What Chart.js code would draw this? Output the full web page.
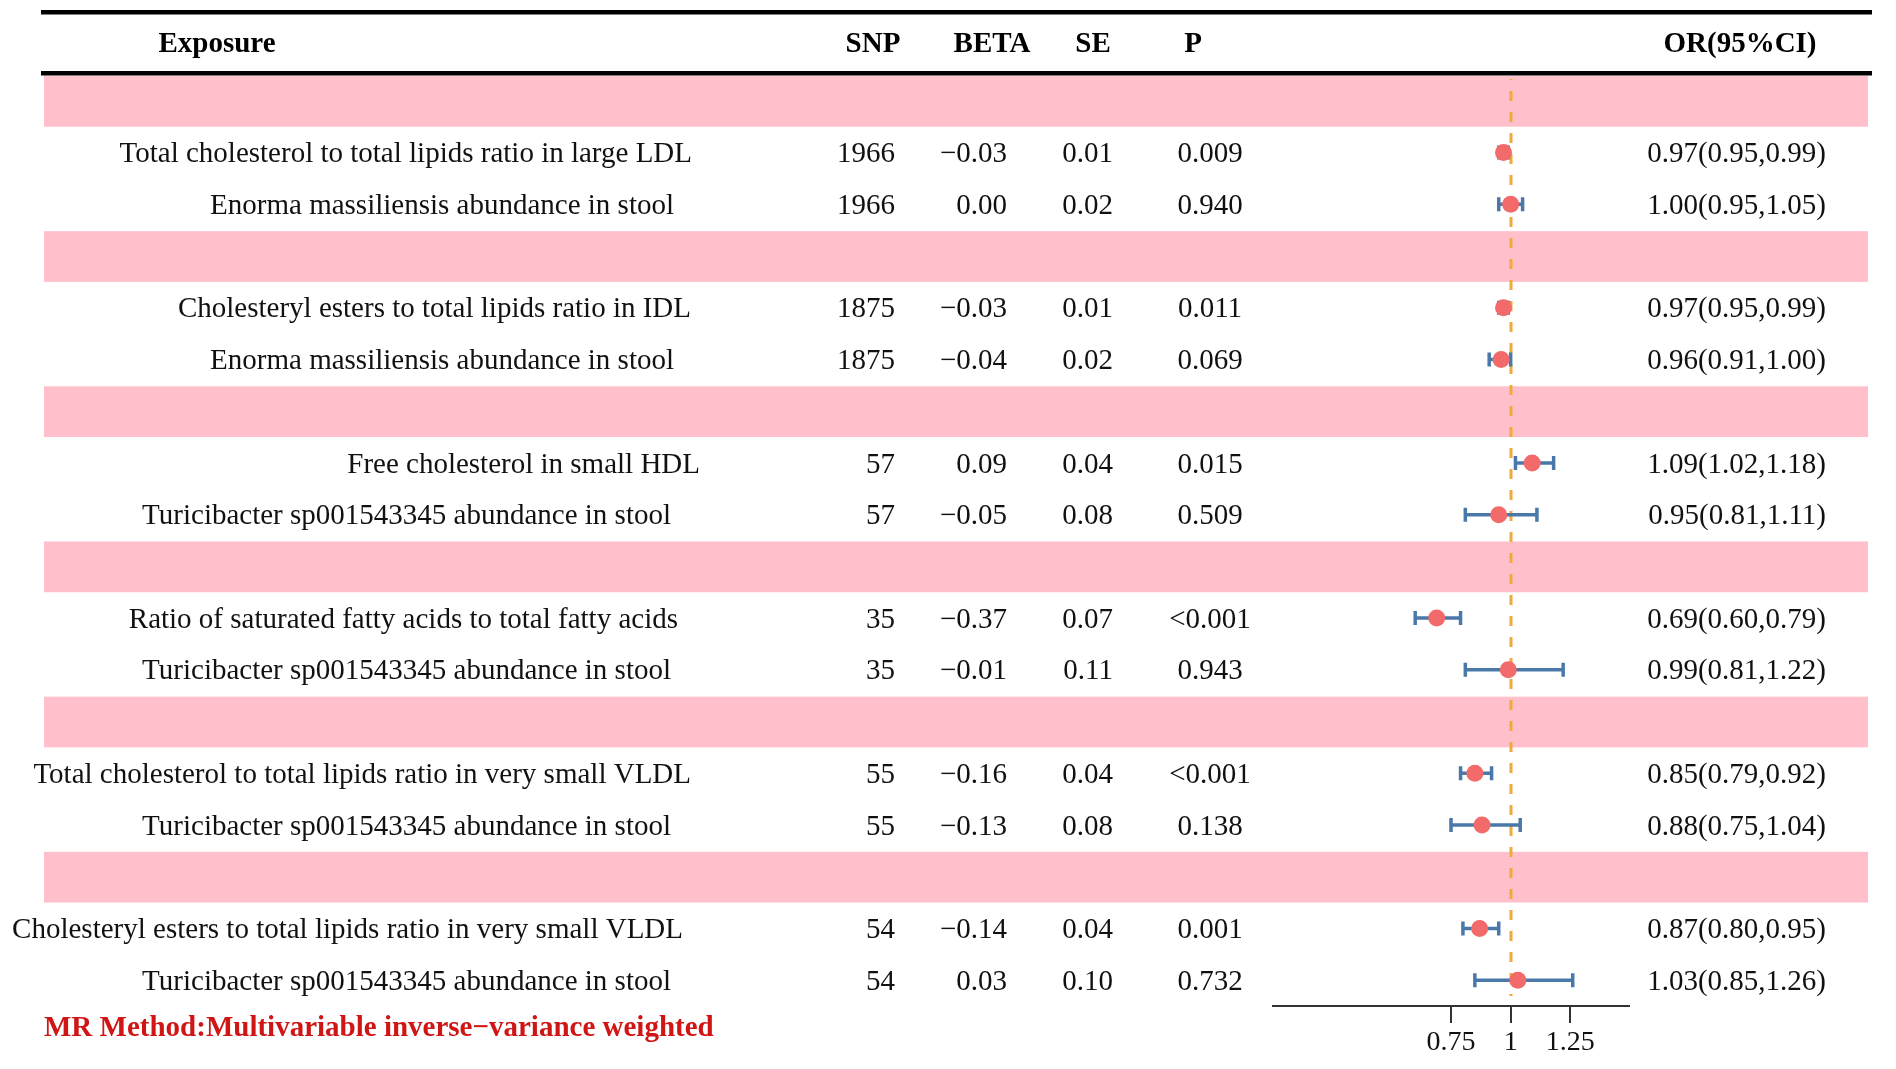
<!DOCTYPE html>
<html>
<head>
<meta charset="utf-8">
<script src="https://cdn.jsdelivr.net/npm/chart.js@4.4.1/dist/chart.umd.min.js"></script>
<style>
  html, body { margin: 0; padding: 0; background: #ffffff; }
  #wrap { width: 1896px; height: 1069px; position: relative; }
</style>
</head>
<body>
<div id="wrap"><canvas id="c" width="1896" height="1069"></canvas></div>
<script>
// ---------------- DATA ----------------
const headers = ["Exposure", "SNP", "BETA", "SE", "P", "OR(95%CI)"];
const exposures = [
  "Total cholesterol to total lipids ratio in large LDL",
  "Enorma massiliensis abundance in stool",
  "Cholesteryl esters to total lipids ratio in IDL",
  "Enorma massiliensis abundance in stool",
  "Free cholesterol in small HDL",
  "Turicibacter sp001543345 abundance in stool",
  "Ratio of saturated fatty acids to total fatty acids",
  "Turicibacter sp001543345 abundance in stool",
  "Total cholesterol to total lipids ratio in very small VLDL",
  "Turicibacter sp001543345 abundance in stool",
  "Cholesteryl esters to total lipids ratio in very small VLDL",
  "Turicibacter sp001543345 abundance in stool"
];
const snp  = [1966, 1966, 1875, 1875, 57, 57, 35, 35, 55, 55, 54, 54];
const beta = [-0.03, 0.00, -0.03, -0.04, 0.09, -0.05, -0.37, -0.01, -0.16, -0.13, -0.14, 0.03];
const se   = [0.01, 0.02, 0.01, 0.02, 0.04, 0.08, 0.07, 0.11, 0.04, 0.08, 0.04, 0.10];
const pval = ["0.009", "0.940", "0.011", "0.069", "0.015", "0.509", "<0.001", "0.943", "<0.001", "0.138", "0.001", "0.732"];
const orv  = [0.97, 1.00, 0.97, 0.96, 1.09, 0.95, 0.69, 0.99, 0.85, 0.88, 0.87, 1.03];
const lower= [0.95, 0.95, 0.95, 0.91, 1.02, 0.81, 0.60, 0.81, 0.79, 0.75, 0.80, 0.85];
const upper= [0.99, 1.05, 0.99, 1.00, 1.18, 1.11, 0.79, 1.22, 0.92, 1.04, 0.95, 1.26];
const xTicks = [0.75, 1, 1.25];
const refLine = 1;
const footnote = "MR Method:Multivariable inverse\u2212variance weighted";

// ---------------- LAYOUT / STYLE ----------------
const W = 1896, H = 1069;
const nGroups = 6, rowsPerGroup = 3, nRows = nGroups * rowsPerGroup;
const FONT = '"Liberation Serif", "Times New Roman", Times, serif';
const FS = 29;
const TEXT_DY = 2;
const tableLeft = 41, tableRight = 1872;
const bandLeft = 44, bandRight = 1868;
const labelRight = [692, 674, 691, 674, 700, 671, 678, 671, 691, 671, 683, 671];
const col = { snpRight: 895, betaRight: 1007, seRight: 1113, pCenter: 1210, orRight: 1826 };
const headX = [217, 873, 992, 1093, 1193, 1740];
const headY = 45;

function rowOf(i) { return Math.floor(i / 2) * rowsPerGroup + 1 + (i % 2); }
function fmt(v) { return v.toFixed(2).replace("-", "\u2212"); }
function fmtOR(i) { return orv[i].toFixed(2) + "(" + lower[i].toFixed(2) + "," + upper[i].toFixed(2) + ")"; }

const points = orv.map((v, i) => ({ x: v, y: rowOf(i) + 0.5 }));

const forestPlugin = {
  id: 'forest',
  beforeDatasetsDraw(chart) {
    const ctx = chart.ctx, xs = chart.scales.x, ys = chart.scales.y;
    ctx.save();
    // pink group bands
    ctx.fillStyle = '#FFC0CB';
    for (let g = 0; g < nGroups; g++) {
      const r = g * rowsPerGroup;
      const y0 = ys.getPixelForValue(r), y1 = ys.getPixelForValue(r + 1);
      ctx.fillRect(bandLeft, y0 + 1, bandRight - bandLeft, y1 - y0 - 1);
    }
    // reference dashed line
    const xr = Math.round(xs.getPixelForValue(refLine));
    ctx.strokeStyle = '#F0AA3C';
    ctx.lineWidth = 3;
    ctx.setLineDash([10, 11]);
    ctx.lineDashOffset = -12;
    ctx.beginPath();
    ctx.moveTo(xr, ys.getPixelForValue(0) + 4);
    ctx.lineTo(xr, ys.getPixelForValue(nRows) - 10);
    ctx.stroke();
    ctx.setLineDash([]);
    // error bars
    ctx.strokeStyle = '#4A78A8';
    ctx.lineWidth = 3.5;
    ctx.lineCap = 'butt';
    for (let i = 0; i < orv.length; i++) {
      const y = ys.getPixelForValue(rowOf(i) + 0.5);
      const xa = xs.getPixelForValue(lower[i]), xb = xs.getPixelForValue(upper[i]);
      ctx.beginPath();
      ctx.moveTo(xa, y); ctx.lineTo(xb, y);
      ctx.moveTo(xa, y - 7); ctx.lineTo(xa, y + 7);
      ctx.moveTo(xb, y - 7); ctx.lineTo(xb, y + 7);
      ctx.stroke();
    }
    ctx.restore();
  },
  afterDraw(chart) {
    const ctx = chart.ctx, xs = chart.scales.x, ys = chart.scales.y;
    ctx.save();
    // header rules
    ctx.fillStyle = '#000';
    ctx.fillRect(tableLeft, 10, tableRight - tableLeft, 4.5);
    ctx.fillRect(tableLeft, 71, tableRight - tableLeft, 4.5);
    // headers
    ctx.font = 'bold ' + FS + 'px ' + FONT;
    ctx.textBaseline = 'middle';
    ctx.textAlign = 'center';
    headers.forEach((h, k) => ctx.fillText(h, headX[k], headY));
    // rows
    ctx.font = FS + 'px ' + FONT;
    ctx.fillStyle = '#111';
    for (let i = 0; i < exposures.length; i++) {
      const y = ys.getPixelForValue(rowOf(i) + 0.5) + TEXT_DY;
      ctx.textAlign = 'right';
      ctx.fillText(exposures[i], labelRight[i], y);
      ctx.fillText(String(snp[i]), col.snpRight, y);
      ctx.fillText(fmt(beta[i]), col.betaRight, y);
      ctx.fillText(se[i].toFixed(2), col.seRight, y);
      ctx.fillText(fmtOR(i), col.orRight, y);
      ctx.textAlign = 'center';
      ctx.fillText(pval[i], col.pCenter, y);
    }
    // x axis
    const yAxis = ys.getPixelForValue(nRows);
    ctx.strokeStyle = '#333';
    ctx.lineWidth = 2;
    ctx.beginPath();
    ctx.moveTo(xs.getPixelForValue(xs.min), yAxis);
    ctx.lineTo(xs.getPixelForValue(xs.max), yAxis);
    xTicks.forEach(t => {
      const x = Math.round(xs.getPixelForValue(t));
      ctx.moveTo(x, yAxis); ctx.lineTo(x, yAxis + 17);
    });
    ctx.stroke();
    ctx.fillStyle = '#111';
    ctx.font = '28px ' + FONT;
    ctx.textAlign = 'center';
    xTicks.forEach(t => ctx.fillText(String(t), xs.getPixelForValue(t), yAxis + 37));
    // footnote
    ctx.fillStyle = '#D01515';
    ctx.font = 'bold ' + FS + 'px ' + FONT;
    ctx.textAlign = 'left';
    ctx.fillText(footnote, 44, 1029);
    ctx.restore();
  }
};

new Chart(document.getElementById('c'), {
  type: 'scatter',
  data: {
    datasets: [{
      data: points,
      pointRadius: 8.5,
      pointHoverRadius: 8.5,
      pointBackgroundColor: '#F26A6A',
      pointBorderWidth: 0,
      showLine: false
    }]
  },
  options: {
    responsive: false,
    animation: false,
    devicePixelRatio: 1,
    layout: { padding: { left: 1272, right: W - 1630, top: 75, bottom: H - 1006 } },
    plugins: { legend: { display: false }, tooltip: { enabled: false } },
    scales: {
      x: { type: 'linear', min: 0, max: 1.5, display: false },
      y: { type: 'linear', min: 0, max: nRows, reverse: true, display: false }
    }
  },
  plugins: [forestPlugin]
});
</script>
</body>
</html>
